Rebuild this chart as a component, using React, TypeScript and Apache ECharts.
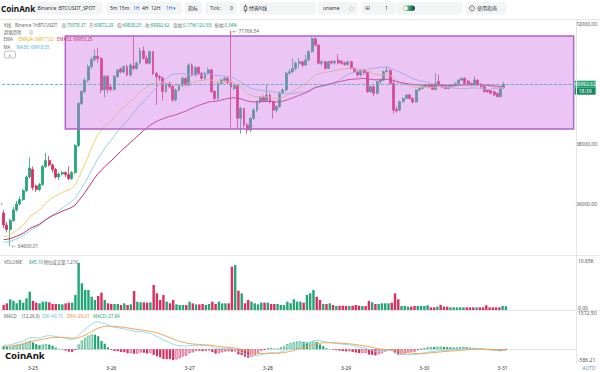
import React, { useEffect, useRef } from 'react';
import * as echarts from 'echarts';

// ---------------- data ----------------
const START_UTC = Date.UTC(2024, 2, 24, 15); // first candle: 3-24 15:00
const SLOT_COUNT = 176; // candles + empty space on the right

const opens = [
  65700, 65300, 65150, 65450, 65800, 66000, 66150, 66450, 66900, 67150,
  66600, 66480, 66650, 67250, 67450, 67300, 67150, 66900, 67000, 67050,
  66980, 66850, 67050, 67950, 69350, 69750, 70130, 70580, 70820, 70930,
  70850, 69800, 70250, 69900, 69820, 70250, 70500, 70400, 70580, 70300,
  70600, 70520, 70700, 71110, 70860, 70690, 71080, 70350, 70250, 70200,
  69750, 70020, 69920, 69470, 69800, 69960, 70190, 69970, 70630, 70300,
  70550, 70360, 70190, 70350, 70470, 69750, 69520, 70020, 70130, 70190,
  70050, 69850, 69950, 68860, 69190, 68630, 68470, 68850, 69130, 69410,
  69560, 69450, 69630, 69410, 69130, 69250, 69690, 69800, 70360, 70410,
  70520, 70690, 70740, 70630, 70800, 71080, 71500, 71300, 70690, 70740,
  70520, 70740, 70700, 70800, 70750, 70700, 70650, 70740, 70520, 70410,
  70300, 70460, 70380, 69740, 69910, 69690, 70080, 70130, 70410, 70450,
  70020, 69150, 69130, 69410, 69520, 69630, 69520, 69400, 69800, 69850,
  69910, 69970, 69960, 69820, 70080, 69970, 69910, 69850, 69910, 69970,
  70020, 70130, 70190, 70100, 70020, 69970, 70130, 69990, 69910, 69800,
  69780, 69744, 69690, 69578, 69872.29,
];
const closes = [
  65300, 65150, 65450, 65800, 66000, 66150, 66450, 66900, 67200, 66550,
  66480, 66650, 67250, 67450, 67300, 67150, 66900, 67000, 67050, 66980,
  66850, 67050, 67950, 69350, 69750, 70130, 70580, 70820, 70930, 70850,
  69800, 70250, 69820, 69820, 70250, 70460, 70400, 70580, 70300, 70630,
  70520, 70700, 71110, 70860, 70690, 71080, 70350, 70250, 70200, 69750,
  70020, 69920, 69470, 69800, 69960, 70190, 69970, 70630, 70300, 70550,
  70360, 70190, 70350, 70470, 69750, 69520, 70020, 70130, 70190, 70050,
  69900, 69950, 68860, 69190, 68630, 68470, 68850, 69130, 69410, 69560,
  69450, 69630, 69410, 69130, 69250, 69690, 69800, 70360, 70410, 70520,
  70690, 70740, 70630, 70800, 71080, 71520, 71300, 70690, 70740, 70520,
  70740, 70700, 70750, 70700, 70690, 70650, 70740, 70520, 70410, 70300,
  70460, 70380, 69740, 69910, 69690, 70080, 70130, 70410, 70450, 70020,
  69130, 69100, 69410, 69520, 69630, 69520, 69400, 69800, 69850, 69910,
  69970, 69900, 69820, 70020, 69970, 69900, 69850, 69910, 69970, 70020,
  70130, 70190, 70020, 69990, 69970, 70130, 69970, 69910, 69744, 69744,
  69690, 69633, 69578, 69872, 69992.62,
];
const lows = [
  65200, 65050, 64600.01, 65400, 65750, 65950, 66100, 66400, 66850, 66450,
  66400, 66420, 66600, 67200, 67250, 67050, 66850, 66800, 66950, 66900,
  66800, 66800, 67000, 67900, 69300, 69700, 70050, 70500, 70750, 70700,
  69700, 69550, 69700, 69750, 69780, 70200, 70350, 70350, 70250, 70250,
  70450, 70480, 70650, 70800, 70650, 70650, 70300, 69300, 70100, 69450,
  69700, 69850, 69400, 69420, 69750, 69900, 69920, 69920, 70250, 70250,
  70300, 70150, 70150, 70300, 69700, 69450, 69480, 69980, 70080, 70000,
  68550, 69800, 68500, 68350, 68550, 68350, 68400, 68800, 69050, 69350,
  69400, 69400, 69350, 68850, 69050, 69200, 69650, 69750, 70300, 70350,
  70450, 70550, 70550, 70600, 70750, 71050, 71250, 70650, 70600, 70480,
  70500, 70650, 70650, 70650, 70650, 70600, 70600, 70480, 70380, 70250,
  70250, 70300, 69700, 69700, 69600, 69650, 70000, 70100, 70380, 69980,
  69000, 69050, 69100, 69380, 69480, 69480, 69350, 69380, 69760, 69820,
  69880, 69860, 69800, 69780, 69940, 69860, 69820, 69830, 69880, 69950,
  70000, 70100, 70000, 69960, 69940, 69950, 69940, 69880, 69720, 69700,
  69660, 69600, 69540, 69550, 69838.25,
];
const highs = [
  65800, 65400, 65500, 65900, 66100, 66250, 66500, 66950, 67550, 67250,
  66650, 66700, 67300, 67700, 67600, 67350, 67200, 67050, 67100, 67080,
  67250, 67100, 68000, 69400, 69800, 70200, 70650, 70900, 71150, 71200,
  70900, 70300, 70300, 70000, 70300, 70500, 70550, 70620, 70650, 70680,
  71580, 70750, 71200, 71250, 70950, 71100, 71100, 70400, 70300, 70250,
  70050, 70080, 69950, 69850, 70000, 70250, 70220, 70700, 70680, 70600,
  70600, 70400, 70400, 70550, 70500, 69800, 70050, 70180, 70250, 70250,
  71769.54, 70000, 69980, 69250, 69200, 68700, 68900, 69200, 69450, 69600,
  69620, 69970, 69700, 69450, 69300, 69750, 69850, 70400, 70500, 70850,
  70750, 70860, 70780, 70970, 71120, 71560, 71560, 71320, 70800, 70780,
  70780, 70800, 70800, 71000, 70800, 70750, 70780, 70780, 70560, 70450,
  70500, 70500, 70420, 69950, 69950, 70100, 70180, 70450, 70600, 70500,
  70100, 69250, 69450, 69560, 69660, 69680, 69560, 69830, 69900, 69950,
  70000, 70000, 70000, 70360, 70300, 70000, 69940, 69940, 70000, 70060,
  70160, 70220, 70220, 70130, 70050, 70250, 70160, 70020, 69940, 69830,
  69800, 69770, 69720, 69880, 70078.37,
];
const volumes = [
  1130, 1510, 2420, 2110, 1510, 2270, 1660, 2640, 4150, 2110,
  1660, 1510, 1890, 1890, 1740, 1360, 1360, 1360, 1280, 1510,
  1660, 1660, 3400, 10650, 6040, 4530, 4530, 3020, 2270, 3170,
  3930, 2270, 1510, 1360, 1360, 1360, 1130, 1510, 1130, 1280,
  4300, 1890, 1740, 1740, 1660, 1740, 5660, 3780, 2270, 3400,
  1890, 1510, 2270, 1280, 1130, 1130, 1130, 1890, 1510, 1280,
  1280, 1360, 1130, 1360, 1890, 1360, 1890, 1510, 1510, 1510,
  9820, 10190, 4380, 3780, 1510, 2270, 1890, 1510, 1280, 1660,
  1660, 1660, 1360, 1360, 1360, 1130, 1130, 1890, 1510, 2420,
  1890, 1890, 1660, 3400, 3780, 4530, 3020, 2270, 1360, 1360,
  1510, 1130, 910, 980, 980, 910, 910, 980, 1130, 980,
  910, 910, 2040, 1740, 1360, 1360, 1510, 1510, 1510, 1660,
  3780, 2420, 910, 910, 760, 760, 910, 910, 910, 910,
  1060, 600, 600, 760, 1130, 760, 760, 600, 600, 600,
  600, 600, 600, 600, 600, 600, 600, 600, 1060, 600,
  600, 600, 600, 910, 845.1,
];

// highlighted zone (start candle index, top price, bottom price)
const ZONE_FROM_INDEX = 19;
const ZONE_TOP = 71600;
const ZONE_BOTTOM = 68500;

// indicator starting values (levels of the lines before the first candle)
const SEED_EMA24 = 64880;
const SEED_EMA52 = 64790;
const SEED_MA30 = 64700;
const SEED_EMA12 = 65000;
const SEED_EMA26 = 64820;
const SEED_DEA = 100;

const COUNTDOWN = '18:39';
const VOL_AXIS_MAX = 10650;
const MACD_AXIS_MIN = -586.21;
const MACD_AXIS_MAX = 1572.5;

// ---------------- helpers ----------------
const GREEN = '#22a676';
const RED = '#dc2d61';
const FONT = '"Noto Sans", "Noto Sans CJK SC", sans-serif';

const categories: string[] = [];
for (let i = 0; i < SLOT_COUNT; i++) {
  const t = new Date(START_UTC + i * 3600000);
  categories.push(
    `${t.getUTCMonth() + 1}-${t.getUTCDate()} ${String(t.getUTCHours()).padStart(2, '0')}:00`
  );
}

function ema(src: number[], period: number, seed: number): number[] {
  const k = 2 / (period + 1);
  let prev = seed;
  return src.map((v) => {
    prev = prev + k * (v - prev);
    return prev;
  });
}
function sma(src: number[], period: number, seed: number): number[] {
  return src.map((_, i) => {
    let s = 0;
    for (let j = i - period + 1; j <= i; j++) s += j >= 0 ? src[j] : seed;
    return s / period;
  });
}

const ema24 = ema(closes, 24, SEED_EMA24);
const ema52 = ema(closes, 52, SEED_EMA52);
const ma30 = sma(closes, 30, SEED_MA30);
const e12 = ema(closes, 12, SEED_EMA12);
const e26 = ema(closes, 26, SEED_EMA26);
const dif = e12.map((v, i) => v - e26[i]);
const dea = ema(dif, 9, SEED_DEA);
const hist = dif.map((v, i) => 2 * (v - dea[i]));
const HIST_SEED = 2 * (SEED_EMA12 - SEED_EMA26 - SEED_DEA);

const LAST_PRICE = closes[closes.length - 1];

function T(x: number, y: number, text: string, fill: string, fontSize = 5, extra: any = {}) {
  return {
    type: 'text',
    x,
    y,
    z: 100,
    silent: true,
    style: { text, fill, fontSize, fontFamily: FONT, verticalAlign: 'middle', align: 'left', ...extra },
  };
}
function KV(x: number, y: number, k: string, v: string, kc: string, vc: string, fs = 4.4) {
  return T(x, y, `{k|${k}}{v|${v}}`, kc, fs, {
    rich: {
      k: { fill: kc, fontSize: fs, fontFamily: FONT },
      v: { fill: vc, fontSize: fs, fontFamily: FONT },
    },
  });
}
function box(x: number, w: number) {
  return { type: 'rect', z: 99, silent: true, shape: { x, y: 2, width: w, height: 12.5, r: 3 }, style: { fill: '#f3f4f6' } };
}
function hline(y: number, x1: number, x2: number, color = '#e6e6e6') {
  return { type: 'line', z: 98, silent: true, shape: { x1, y1: y, x2, y2: y }, style: { stroke: color, lineWidth: 1 } };
}

function buildOption() {
  const candleData = opens.map((o, i) => [o, closes[i], lows[i], highs[i]]);
  const volData = volumes.map((v, i) => ({
    value: v,
    itemStyle: { color: closes[i] >= opens[i] ? GREEN : RED },
  }));
  const histData = hist.map((v, i) => {
    const prev = i > 0 ? hist[i - 1] : HIST_SEED;
    const c = v >= 0 ? GREEN : RED;
    const hollow = v >= prev;
    return {
      value: v,
      itemStyle: hollow ? { color: '#ffffff', borderColor: c, borderWidth: 0.7 } : { color: c },
    };
  });

  const TB = 8.3; // toolbar text center line
  const IY = 24.5; // info row
  const graphic: any[] = [
    // toolbar
    T(1, TB, 'CoinAnk', '#111', 8.2, { fontWeight: 'bold' }),
    box(33.5, 69.5),
    box(106, 76),
    box(185, 17),
    box(205, 32),
    box(240, 76),
    box(318, 40),
    box(361, 35),
    box(397, 66),
    box(466, 40),
    T(37.5, TB, 'Binance :BTCUSDT_SPOT', '#333', 5),
    T(110, TB, '5m', '#333', 5),
    T(119, TB, '15m', '#333', 5),
    T(133, TB, '1H', '#2f6fe0', 5),
    T(142, TB, '4H', '#333', 5),
    T(151, TB, '12H', '#333', 5),
    T(166, TB, '1H', '#2f6fe0', 5),
    T(173, TB, '▾', '#2f6fe0', 5),
    T(188, TB, '指标', '#333', 5),
    T(210, TB, 'Tick:', '#333', 5),
    T(230, TB, '0', '#333', 5),
    { type: 'line', z: 100, silent: true, shape: { x1: 245.5, y1: 4.5, x2: 245.5, y2: 12.5 }, style: { stroke: '#333', lineWidth: 0.7 } },
    { type: 'rect', z: 101, silent: true, shape: { x: 244.3, y: 6.3, width: 2.4, height: 4.2 }, style: { fill: '#fff', stroke: '#333', lineWidth: 0.7 } },
    T(249, TB, '经典K线', '#333', 5),
    T(323, TB, 'uname', '#333', 5),
    T(349, TB, '◇', '#555', 5),
    T(364.5, TB, '⊞', '#555', 5.5),
    T(385, TB, '1', '#333', 5),
    {
      type: 'rect', z: 100, silent: true,
      shape: { x: 403, y: 5.5, width: 12, height: 5.5, r: 2.75 },
      style: {
        fill: new echarts.graphic.LinearGradient(0, 0, 1, 0, [
          { offset: 0, color: '#c9ec7a' },
          { offset: 0.5, color: '#3aa57a' },
          { offset: 1, color: '#1c3f46' },
        ]),
      },
    },
    { type: 'circle', z: 101, silent: true, shape: { cx: 405.8, cy: 8.25, r: 2 }, style: { fill: '#fff', stroke: '#bbb', lineWidth: 0.4 } },
    { type: 'circle', z: 100, silent: true, shape: { cx: 472, cy: TB, r: 2.6 }, style: { fill: 'none', stroke: '#333', lineWidth: 0.6 } },
    T(471.2, TB, '!', '#333', 3.8),
    T(477, TB, '使用指南', '#333', 5),

    // separators
    hline(19.5, 0, 600),
    hline(255.5, 0, 600),
    hline(310.5, 0, 600),
    { type: 'line', z: 98, silent: true, shape: { x1: 576.5, y1: 19, x2: 576.5, y2: 363 }, style: { stroke: '#e6e6e6', lineWidth: 1 } },

    // info rows
    T(4, IY, 'K线', '#666', 4.4),
    T(15, IY, 'Binance', '#666', 4.4),
    T(32.5, IY, '1h', '#666', 4.4),
    T(38, IY, 'BTCUSDT', '#666', 4.4),
    KV(61.5, IY, '高:', '70078.37', '#777', '#1aa56e'),
    KV(89, IY, '开:', '69872.29', '#777', '#1aa56e'),
    KV(117, IY, '低:', '69838.25', '#777', '#1aa56e'),
    KV(145, IY, '收:', '69992.62', '#777', '#1aa56e'),
    KV(173, IY, '涨幅:', '0.17%(120.33)', '#777', '#1aa56e'),
    KV(214.5, IY, '振幅:', '0.34%', '#777', '#1aa56e'),
    T(4, 31.8, '超级趋势', '#666', 4.4),
    T(29, 31.8, '⊘', '#888', 4.4),
    T(3.5, 39.3, 'EMA', '#666', 4.4),
    T(18.5, 39.3, 'EMA24: 69917.02', '#d6b300', 4.4),
    T(57, 39.3, 'EMA52: 69953.25', '#d12f6a', 4.4),
    T(3.5, 47.3, 'MA', '#666', 4.4),
    T(16.5, 47.3, 'MA30: 69918.05', '#49b4d2', 4.4),
    { type: 'rect', z: 100, silent: true, shape: { x: 4.5, y: 51, width: 11, height: 7, r: 1.5 }, style: { fill: '#fff', stroke: '#999', lineWidth: 0.6 } },
    T(8.2, 55.6, '^', '#555', 5.5),
    T(0.5, 203.5, '‹', '#666', 6.5),

    // pane titles
    T(4, 261.6, 'VOLUME', '#666', 4.4),
    T(29, 261.6, '845.10', '#1aa56e', 4.4),
    T(43.5, 261.6, '预估成交量:1.21K', '#666', 4.4),
    T(4, 316.2, 'MACD', '#666', 4.4),
    T(22, 316.2, '(12,26,9)', '#666', 4.4),
    T(42, 316.2, 'DIF:-43.15', '#5fc2d8', 4.4),
    T(67, 316.2, 'DEA:-29.23', '#ee9540', 4.4),
    T(93, 316.2, 'MACD:-27.84', '#25a87a', 4.4),

    // watermark / footer
    T(5, 355, 'CoinAnk', '#111', 9.5, { fontWeight: 'bold' }),
    T(582.5, 367.5, 'AUTO', '#5b86d8', 4.8),
  ];

  const xAxes = [0, 1, 2].map((g) => ({
    type: 'category',
    gridIndex: g,
    data: categories,
    boundaryGap: true,
    axisLine: { show: g === 2, lineStyle: { color: '#e3e3e3' } },
    axisTick: { show: false },
    splitLine: { show: false },
    axisPointer: { show: false },
    axisLabel:
      g === 2
        ? {
            show: true,
            interval: (_idx: number, val: string) => String(val).endsWith(' 00:00'),
            formatter: (val: string) => String(val).split(' ')[0],
            fontSize: 5,
            color: '#333',
            margin: 3,
          }
        : { show: false },
  }));

  return {
    animation: false,
    backgroundColor: '#ffffff',
    textStyle: { fontFamily: FONT },
    grid: [
      { left: 2, right: 24, top: 20, height: 235 },
      { left: 2, right: 24, top: 263, height: 47 },
      { left: 2, right: 24, top: 315, height: 47 },
    ],
    xAxis: xAxes,
    yAxis: [
      {
        gridIndex: 0,
        position: 'right',
        min: 64300,
        max: 72133,
        splitNumber: 4,
        axisLine: { show: false },
        axisTick: { show: false },
        splitLine: { show: false },
        axisLabel: {
          fontSize: 5,
          color: '#555',
          margin: 2,
          showMinLabel: false,
          showMaxLabel: false,
          formatter: (v: number) => (Math.abs(v % 2000) < 1e-6 && v !== 70000 ? v.toFixed(2) : ''),
        },
      },
      {
        gridIndex: 1,
        position: 'right',
        min: 0,
        max: VOL_AXIS_MAX,
        interval: VOL_AXIS_MAX,
        axisLine: { show: false },
        axisTick: { show: false },
        splitLine: { show: false },
        axisLabel: {
          fontSize: 5,
          color: '#555',
          margin: 2,
          verticalAlign: 'bottom',
          formatter: (v: number) => (v === 0 ? '0.00' : (v / 1000).toFixed(2) + 'K'),
        },
      },
      {
        gridIndex: 2,
        position: 'right',
        min: MACD_AXIS_MIN,
        max: MACD_AXIS_MAX,
        interval: MACD_AXIS_MAX - MACD_AXIS_MIN,
        axisLine: { show: false },
        axisTick: { show: false },
        splitLine: { show: false },
        axisLabel: {
          fontSize: 5,
          color: '#555',
          margin: 2,
          verticalAlign: 'bottom',
          formatter: (v: number) => v.toFixed(2),
        },
      },
    ],
    series: [
      {
        type: 'candlestick',
        xAxisIndex: 0,
        yAxisIndex: 0,
        z: 2,
        data: candleData,
        barWidth: 2.4,
        itemStyle: { color: GREEN, color0: RED, borderColor: GREEN, borderColor0: RED, borderWidth: 0.8 },
        markPoint: {
          z: 10,
          silent: true,
          symbol: 'circle',
          symbolSize: 1,
          itemStyle: { color: 'rgba(0,0,0,0)' },
          label: {
            show: true,
            position: 'right',
            distance: 1,
            color: '#666',
            fontSize: 4.8,
            formatter: (p: any) => '← ' + Number(p.value).toFixed(2),
          },
          data: [
            { type: 'max', valueDim: 'highest', name: 'high' },
            { type: 'min', valueDim: 'lowest', name: 'low' },
          ],
        },
        markLine: {
          z: 10,
          silent: true,
          symbol: ['none', 'none'],
          lineStyle: { type: 'dashed', color: '#4ea8b6', width: 0.8 },
          label: {
            position: 'end',
            distance: 1,
            formatter: `{sp| }\n{px|${LAST_PRICE.toFixed(2)}}\n{tm|${COUNTDOWN}}`,
            rich: {
              sp: { fontSize: 5, lineHeight: 7, height: 7 },
              px: { color: '#fff', backgroundColor: '#1f9f6f', fontSize: 5, lineHeight: 7, height: 7, width: 20, align: 'center', padding: [0, 0.5] },
              tm: { color: '#fff', backgroundColor: '#16895f', fontSize: 5, lineHeight: 7, height: 7, width: 20, align: 'center', padding: [0, 0.5] },
            },
          },
          data: [{ yAxis: LAST_PRICE }],
        },
      },
      {
        type: 'line', xAxisIndex: 0, yAxisIndex: 0, z: 3, silent: true,
        data: ema24, showSymbol: false, symbol: 'none',
        lineStyle: { color: '#eed36a', width: 1 },
      },
      {
        type: 'line', xAxisIndex: 0, yAxisIndex: 0, z: 3, silent: true,
        data: ma30, showSymbol: false, symbol: 'none',
        lineStyle: { color: '#8dd5e6', width: 1 },
      },
      {
        type: 'line', xAxisIndex: 0, yAxisIndex: 0, z: 3, silent: true,
        data: ema52, showSymbol: false, symbol: 'none',
        lineStyle: { color: '#c4306a', width: 1 },
      },
      {
        type: 'custom',
        xAxisIndex: 0,
        yAxisIndex: 0,
        z: 4,
        silent: true,
        encode: { x: 0, y: [1, 2] },
        data: [[ZONE_FROM_INDEX, ZONE_TOP, ZONE_BOTTOM]],
        renderItem: (params: any, api: any) => {
          const cs = params.coordSys;
          const p0 = api.coord([api.value(0), api.value(1)]);
          const p1 = api.coord([api.value(0), api.value(2)]);
          const right = cs.x + cs.width;
          return {
            type: 'rect',
            shape: { x: p0[0], y: p0[1], width: right - p0[0], height: p1[1] - p0[1] },
            style: { fill: 'rgba(208,120,232,0.42)', stroke: '#b462c9', lineWidth: 1.5 },
          };
        },
      },
      {
        type: 'bar', xAxisIndex: 1, yAxisIndex: 1, silent: true,
        data: volData, barWidth: 2.4,
      },
      {
        type: 'bar', xAxisIndex: 2, yAxisIndex: 2, silent: true,
        data: histData, barWidth: 2.2,
      },
      {
        type: 'line', xAxisIndex: 2, yAxisIndex: 2, silent: true,
        data: dif, showSymbol: false, symbol: 'none',
        lineStyle: { color: '#96dbe8', width: 1 },
      },
      {
        type: 'line', xAxisIndex: 2, yAxisIndex: 2, silent: true,
        data: dea, showSymbol: false, symbol: 'none',
        lineStyle: { color: '#f1a55c', width: 1 },
      },
    ],
    graphic,
  };
}

export default function App() {
  const ref = useRef<HTMLDivElement>(null);
  useEffect(() => {
    if (!ref.current) return;
    const chart = echarts.init(ref.current, null, { renderer: 'svg' });
    chart.setOption(buildOption() as any);
    return () => chart.dispose();
  }, []);
  return (
    <div
      ref={ref}
      style={{ position: 'absolute', left: 0, top: 0, width: 600, height: 372, background: '#fff' }}
    />
  );
}
